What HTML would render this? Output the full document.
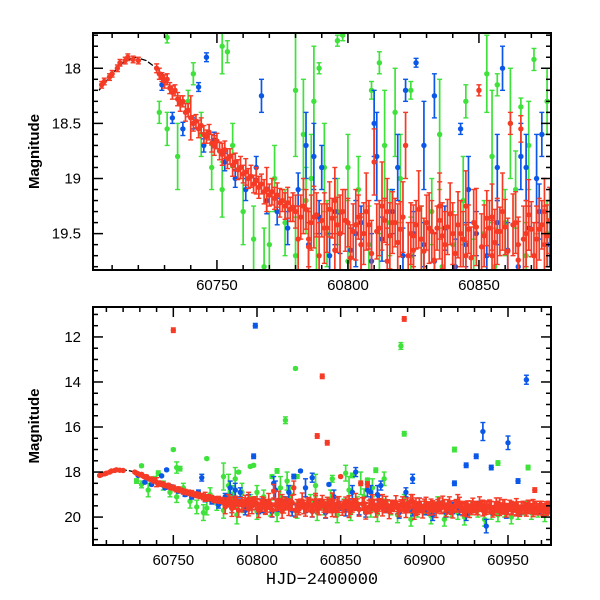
<!DOCTYPE html>
<html><head><meta charset="utf-8"><style>
html,body{margin:0;padding:0;background:#fff;}
svg{display:block;font-family:"Liberation Sans",sans-serif;}
</style></head><body>
<svg id="chart" width="600" height="600" viewBox="0 0 600 600"></svg>
<script>
// ---------- data ----------
const redX=[60706,60707,60709,60710,60712,60713,60715,60716,60718,60720,
60727,60728,60729,60730,60731,60732,60733,60734,60735,60736,60737,60738,60739,60740,60741,60742,60743,60744,60745,60746,60747,60748,60749,60750,60751,60752,60753,60754,60755,60756,60757,60758,60759,60760,60761,60762,60763,60764,60765,60766,60767,60768,60769,60770,60771,60772,60773,60774,60775,60776,60777,60778,60779,
60780,60782,60784,60786,60788,60790,60792,60794,60796,60798,
60800,60802,60804,60806,60808,60810,60812,60814,60816,60818,
60820,60822,60824,60826,60828,60830,60832,60834,60836,60838,
60840,60842,60844,60846,60848,60850,60852,60854,60856,60858,
60860,60862,60864,60866,60868,60870,60872,60874,60876,60878,
60880,60882,60884,60886,60888,60890,60892,60894,60896,60898,
60900,60902,60904,60906,60908,60910,60912,60914,60916,60918,
60920,60922,60924,60926,60928,60930,60932,60934,60936,60938,
60940,60942,60944,60946,60948,60950,60952,60954,60956,60958,
60960,60962,60964,60966,60968,60970,60972,60974,60976];
const redM=[18.15,18.12,18.08,18.05,18.0,17.95,17.93,17.9,17.92,17.93,
18.00,18.05,18.08,18.12,18.10,18.18,18.22,18.20,18.28,18.32,18.30,18.40,18.38,18.45,18.50,18.48,18.55,18.52,18.60,18.62,18.58,18.68,18.70,18.66,18.75,18.78,18.74,18.82,18.80,18.88,18.85,18.92,18.90,18.96,18.94,19.00,18.98,19.05,19.02,19.08,19.05,19.12,19.10,19.15,19.12,19.18,19.15,19.22,19.20,19.25,19.22,19.28,19.26,
19.30,19.35,19.28,19.40,19.33,19.38,19.45,19.36,19.42,19.30,
19.40,19.48,19.35,19.50,19.42,18.85,19.45,19.38,19.52,19.40,
19.46,18.70,19.50,19.42,19.55,19.40,19.48,19.45,19.52,19.44,
19.50,19.42,19.55,19.46,19.40,18.20,19.52,19.45,19.58,19.48,
19.44,18.50,19.40,18.55,19.50,19.46,19.55,19.42,19.52,19.48,
19.55,19.50,19.58,19.45,19.52,19.40,19.30,19.75,19.60,19.55,
19.50,19.58,19.48,19.55,19.52,19.60,19.50,19.45,19.58,19.52,
19.30,19.55,19.62,19.50,19.58,19.55,19.62,19.52,19.60,19.55,
19.58,19.62,19.55,19.60,19.52,19.65,19.58,19.55,19.62,19.58,
19.60,19.55,19.62,19.58,19.65,19.60,19.62,19.58,19.60];
const redE=[.03,.03,.03,.03,.03,.03,.03,.03,.03,.03,
.04,.05,.04,.06,.05,.05,.06,.05,.06,.07,.05,.08,.06,.2,.07,.06,.08,.07,.08,.06,.07,.08,.09,.07,.08,.1,.08,.09,.07,.1,.08,.09,.1,.08,.12,.09,.1,.08,.12,.1,.09,.11,.2,.1,.12,.1,.11,.13,.1,.12,.14,.11,.13,
.15,.2,.18,.25,.2,.15,.22,.18,.25,.2,
.22,.25,.2,.28,.22,.3,.25,.2,.3,.22,
.25,.3,.28,.22,.3,.25,.28,.2,.3,.25,
.28,.3,.25,.22,.3,.05,.28,.25,.3,.22,
.25,.1,.28,.12,.3,.25,.3,.22,.28,.25,
.3,.25,.28,.22,.3,.25,.3,.35,.28,.25,
.3,.25,.28,.22,.3,.25,.28,.22,.3,.25,
.3,.25,.28,.22,.3,.25,.28,.22,.3,.25,
.28,.3,.25,.22,.3,.25,.28,.22,.3,.25,
.25,.3,.22,.28,.25,.3,.22,.28,.25];
const redBX=[60781,60783,60785,60787,60789,60791,60793,60795,60797,60799,
60801,60803,60805,60807,60809,60811,60813,60815,60817,60819,
60821,60823,60825,60827,60829,60831,60833,60835,60837,60839,
60841,60843,60845,60847,60849,60851,60853,60855,60857,60859,
60861,60863,60865,60867,60869,60871,60873,60875,60877,60879,
60881,60883,60885,60887,60889,60891,60893,60895,60897,60899,
60901,60903,60905,60907,60909,60911,60913,60915,60917,60919,
60921,60923,60925,60927,60929,60931,60933,60935,60937,60939,
60941,60943,60945,60947,60949,60951,60953,60955,60957,60959,
60961,60963,60965,60967,60969,60971,60973,60975];
const redBM=[19.55,19.25,19.62,19.35,19.70,19.45,19.28,19.65,19.50,19.38,
19.72,19.42,19.60,19.30,19.68,19.48,19.25,19.75,19.40,19.58,
19.35,19.70,19.52,19.28,19.66,19.45,19.74,19.38,19.60,19.32,
19.68,19.50,19.25,19.72,19.44,19.62,19.36,19.70,19.48,19.30,
19.66,19.42,19.74,19.55,19.33,19.70,19.46,19.60,19.38,19.75,
19.50,19.35,19.68,19.42,19.72,19.56,19.30,19.65,19.48,19.74,
19.40,19.62,19.52,19.70,19.45,19.35,19.68,19.58,19.74,19.50,
19.42,19.66,19.55,19.72,19.48,19.62,19.40,19.70,19.58,19.52,
19.75,19.45,19.65,19.55,19.70,19.50,19.62,19.48,19.72,19.58,
19.66,19.52,19.70,19.60,19.55,19.68,19.62,19.58];
const redBE=[.3,.25,.35,.28,.3,.32,.25,.3,.35,.28,
.3,.32,.28,.35,.3,.25,.4,.3,.28,.35,
.32,.3,.28,.35,.3,.32,.25,.35,.3,.28,
.35,.3,.32,.28,.35,.3,.25,.32,.3,.35,
.3,.28,.35,.3,.32,.3,.28,.35,.3,.32,
.25,.3,.28,.32,.3,.25,.3,.28,.32,.3,
.28,.3,.25,.32,.3,.28,.3,.25,.3,.28,
.3,.28,.25,.3,.32,.28,.3,.25,.3,.28,
.25,.3,.28,.32,.3,.25,.28,.3,.25,.28,
.3,.25,.28,.3,.25,.28,.3,.25];
const redOutX=[60750,60888,60839,60836,60842,60966,60785,60795,60805,60815,60825,60835,60845,60855,60865,60875,60885,60895,60905,60915,60925,60935,60945,60955,60965];
const redOutM=[11.7,11.2,13.75,16.4,16.7,18.8,19.55,19.2,19.6,19.3,19.65,19.25,19.7,19.35,19.6,19.3,19.7,19.45,19.65,19.4,19.7,19.5,19.45,19.7,19.5];
const redOutE=[.1,.1,.1,.1,.1,.1,.25,.3,.25,.3,.25,.3,.28,.3,.25,.3,.28,.3,.25,.3,.28,.25,.3,.25,.28];

const blueX=[60729,60733,60737,60741,60745,60749,60753,60757,60761,60765,60769,60773,60777,60781,60785,60789,60793,60797,60801,60805,60809,60813,60817,60821,60825,60829,60833,60837,60841,60845,60849,60853,60857,60861,60865,60869,60873,60877,60881,60885,60889,60893,60897,60901,60905,60909,60913,60917,60921,60925,60929,60933,60937,60941,60945,60949,60953,60957,60961,60965,60969,60973];
const blueM=[18.15,18.45,18.55,18.5,18.7,18.65,18.85,19.0,19.1,18.9,19.2,19.3,19.45,19.1,19.6,19.35,19.7,19.5,19.65,19.4,19.75,19.55,19.3,19.7,19.5,19.6,19.75,19.45,19.8,19.6,19.5,19.7,19.4,19.65,19.8,19.45,19.3,19.6,19.5,19.8,18.9,19.75,19.4,19.7,19.9,19.5,19.8,19.6,19.7,19.9,19.6,19.5,20.4,19.7,19.6,19.8,19.55,19.7,19.6,19.65,19.7,19.6];
const blueE=[.05,.05,.06,.05,.06,.07,.08,.08,.1,.1,.12,.12,.15,.15,.2,.15,.2,.18,.2,.15,.25,.2,.2,.25,.2,.2,.25,.2,.25,.2,.2,.25,.2,.25,.2,.2,.25,.2,.2,.25,.2,.2,.25,.2,.25,.2,.2,.25,.2,.25,.2,.2,.3,.2,.2,.25,.2,.2,.2,.2,.2,.2];
const blueOutX=[60746,60743,60767,60826,60843,60859,60822,60833,60799,60798,60935,60950,60961,60940,60931,60925,60893,60956,60918,60810,60784,60790,60874,60868,60787,60811,60819,60829,60846,60857,60866,60872,60795,60803];
const blueOutM=[17.9,18.17,18.25,17.95,18.55,18.0,18.2,18.25,11.5,17.3,16.2,16.7,13.9,17.8,17.3,17.7,18.3,18.4,18.5,18.5,18.7,18.9,18.6,18.9,18.8,18.8,18.9,18.7,19.1,18.9,18.8,19.0,19.3,19.5];
const blueOutE=[.04,.04,.15,.04,.05,.2,.1,.2,.1,.1,.4,.3,.2,.1,.1,.1,.2,.1,.1,.3,.3,.2,.2,.3,.3,.4,.3,.4,.3,.3,.3,.4,.3,.3];

const greenX=[60728,60731,60735,60739,60744,60748,60752,60756,60760,60764,60768,60772,60776,60780,60784,60788,60792,60796,60800,60804,60808,60812,60816,60820,60824,60828,60832,60836,60840,60844,60848,60852,60856,60860,60864,60868,60872,60876,60880,60884,60888,60892,60896,60900,60904,60908,60912,60916,60920,60924,60928,60932,60936,60940,60944,60948,60952,60956,60960,60964,60968,60972];
const greenM=[18.4,18.55,18.8,18.3,18.6,18.9,19.1,18.7,19.3,19.55,19.8,19.0,19.4,19.7,19.2,19.9,19.5,19.3,19.75,19.1,19.6,19.85,19.4,19.0,19.7,19.55,19.3,19.8,19.6,19.2,19.9,19.5,19.8,19.4,19.1,19.7,19.85,19.5,19.6,19.9,19.3,20.1,19.7,19.6,19.95,19.4,20.1,19.7,19.8,20.0,19.6,19.7,20.1,19.8,19.9,19.7,20.0,19.8,19.6,19.8,19.7,19.9];
const greenE=[.1,.15,.3,.1,.2,.2,.25,.2,.3,.3,.35,.3,.3,.35,.3,.4,.3,.3,.35,.3,.35,.35,.3,.4,.35,.3,.3,.35,.3,.4,.35,.3,.35,.3,.35,.3,.35,.3,.3,.35,.3,.3,.3,.3,.35,.3,.3,.3,.3,.35,.3,.3,.3,.3,.3,.3,.3,.3,.3,.3,.3,.3];
const greenOutX=[60731,60752,60741,60780,60789,60796,60798,60809,60812,60824,60845,60853,60857,60866,60871,60754,60750,60770,60817,60823,60886,60888,60918,60944,60962,60800,60786,60770,60783,60787,60791,60814,60818,60835,60855,60862,60869,60876];
const greenOutM=[17.72,17.8,18.05,18.2,18.0,17.75,17.7,18.2,17.95,18.2,18.3,18.05,18.15,18.35,17.92,17.85,17.0,17.4,15.7,13.4,12.4,16.3,17.0,17.6,17.8,18.9,19.0,19.6,18.6,18.3,18.9,18.7,18.4,18.6,18.8,18.5,18.7,18.3];
const greenOutE=[.05,.25,.1,.6,.05,.05,.05,.08,.1,.08,.15,.35,.1,.08,.1,.1,.05,.05,.15,.05,.15,.1,.1,.1,.1,.3,.4,.3,.5,.5,.4,.5,.4,.5,.6,.5,.4,.3];

const fitX=[60705,60710,60715,60719,60723,60727,60730];
const fitM=[18.2,18.05,17.93,17.9,17.93,18.0,18.07];

const topXTicks=[60750,60800,60850];
const topYTicks=[18,18.5,19,19.5];
const botXTicks=[60750,60800,60850,60900,60950];
const botYTicks=[12,14,16,18,20];

// ---------- drawing ----------
const NS='http://www.w3.org/2000/svg';
const svg=document.getElementById('chart');
function mk(tag,attrs,parent){const e=document.createElementNS(NS,tag);for(const k in attrs)e.setAttribute(k,attrs[k]);(parent||svg).appendChild(e);return e;}

const panels=[
 {name:'top',x0:93,x1:551,y0:33,y1:270,xmin:60702.7,xmax:60877.5,ymin:17.68,ymax:19.83,xt:topXTicks,yt:topYTicks,xminor:10,yminor:0.1},
 {name:'bottom',x0:93,x1:551,y0:307,y1:545,xmin:60702,xmax:60975.7,ymin:10.67,ymax:21.24,xt:botXTicks,yt:botYTicks,xminor:10,yminor:0.5}
];
const colors={red:'#f53b26',blue:'#0b57e8',green:'#3ee23a'};

panels.forEach((p,pi)=>{
 const sx=v=>p.x0+(v-p.xmin)/(p.xmax-p.xmin)*(p.x1-p.x0);
 const sy=v=>p.y0+(v-p.ymin)/(p.ymax-p.ymin)*(p.y1-p.y0);
 const g=mk('g',{});
 
 
 const cp=mk('clipPath',{id:'clip'+pi},g);
 mk('rect',{x:p.x0,y:p.y0,width:p.x1-p.x0,height:p.y1-p.y0},cp);
 const plot=mk('g',{'clip-path':'url(#clip'+pi+')'},g);
 
 
 const fit=mk('polyline',{points:fitX.map((x,i)=>sx(x)+','+sy(fitM[i])).join(' '),fill:'none',stroke:'#000','stroke-width':1.3,'stroke-dasharray':'6,2'},plot);
 
 
 function series(name,X,M,E,col){
  const sg=mk('g',{fill:col,stroke:col},plot);
  
  
  X.forEach((x,i)=>{
   const cx=sx(x),cy=sy(M[i]),t=sy(M[i]-E[i]),b=sy(M[i]+E[i]);
   mk('line',{x1:cx,x2:cx,y1:t,y2:b,'stroke-width':1.7},sg);
   mk('line',{x1:cx-2.5,x2:cx+2.5,y1:t,y2:t,'stroke-width':1.4},sg);
   mk('line',{x1:cx-2.5,x2:cx+2.5,y1:b,y2:b,'stroke-width':1.4},sg);
   const c=mk('circle',{cx:cx,cy:cy,r:2.7,stroke:'none'},sg);
   
   
  });
 }
 series('green-band-series',greenX,greenM,greenE,colors.green);
 series('green-outlier-series',greenOutX,greenOutM,greenOutE,colors.green);
 series('blue-band-series',blueX,blueM,blueE,colors.blue);
 series('blue-outlier-series',blueOutX,blueOutM,blueOutE,colors.blue);
 series('red-band-series-b',redBX,redBM,redBE,colors.red);
 series('red-band-series',redX,redM,redE,colors.red);
 series('red-outlier-series',redOutX,redOutM,redOutE,colors.red);
 const fr=mk('rect',{x:p.x0,y:p.y0,width:p.x1-p.x0,height:p.y1-p.y0,fill:'none',stroke:'#000','stroke-width':2},g);
 
 
 const tk=mk('g',{stroke:'#000','stroke-width':1.5},g);
 
 
 for(let v=Math.ceil(p.xmin/p.xminor)*p.xminor;v<=p.xmax;v+=p.xminor){
  const major=Math.abs(v%50)<1e-6,L=major?10:5,x=sx(v);
  mk('line',{x1:x,x2:x,y1:p.y1,y2:p.y1-L},tk);
  mk('line',{x1:x,x2:x,y1:p.y0,y2:p.y0+L},tk);
 }
 const ymaj=p.yt[1]-p.yt[0];
 for(let k=Math.ceil(p.ymin/p.yminor);k*p.yminor<=p.ymax;k++){
  const v=k*p.yminor,r=v/ymaj,major=Math.abs(r-Math.round(r))<1e-6,L=major?10:5,y=sy(v);
  mk('line',{x1:p.x0,x2:p.x0+L,y1:y,y2:y},tk);
  mk('line',{x1:p.x1,x2:p.x1-L,y1:y,y2:y},tk);
 }
 p.xt.forEach(v=>{const t=mk('text',{x:sx(v),y:p.y1+20,'text-anchor':'middle','font-size':15,fill:'#000'},g);t.textContent=v;
  });
 p.yt.forEach(v=>{const t=mk('text',{x:p.x0-12,y:sy(v)+5,'text-anchor':'end','font-size':15,fill:'#000'},g);t.textContent=String(v);
  });
 const yl=mk('text',{x:0,y:0,transform:'translate(39,'+((p.y0+p.y1)/2)+') rotate(-90)','text-anchor':'middle','font-size':15,'font-weight':'bold',fill:'#000'},g);
 yl.textContent='Magnitude';
 
 
});
const xt=mk('text',{x:322,y:584,'text-anchor':'middle','font-size':17,'font-family':'Liberation Mono, monospace',fill:'#000'});
xt.textContent='HJD\u22122400000';


</script>
</body></html>
